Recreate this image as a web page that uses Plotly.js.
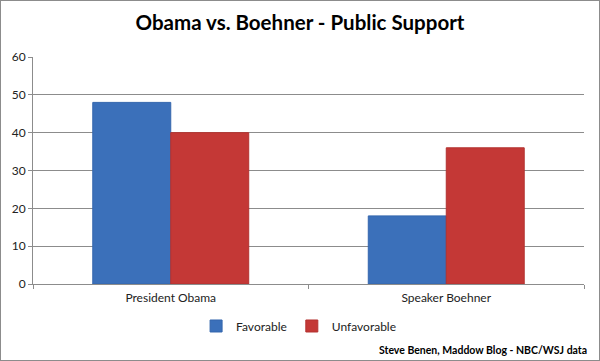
<!DOCTYPE html>
<html><head><meta charset="utf-8">
<script src="https://cdn.plot.ly/plotly-3.0.1.min.js"></script>
<style>html,body{margin:0;padding:0;background:#fff}#c{width:600px;height:361px;box-sizing:border-box;border:1px solid #8c8c8c}</style>
</head><body><div id="c"></div>
<script>
const categories = ["President Obama", "Speaker Boehner"];
const favorable = [48, 18];
const unfavorable = [40, 36];
const seriesNames = ["Favorable", "Unfavorable"];

const data = [
  {type:'bar', x:categories, y:favorable, name:seriesNames[0],
   marker:{color:'#3b70ba', line:{color:'#3466ad', width:1}}},
  {type:'bar', x:categories, y:unfavorable, name:seriesNames[1],
   marker:{color:'#c43836', line:{color:'#b33230', width:1}}}
];
const layout = {
  width:598, height:359,
  margin:{l:32, r:15, t:56, b:76, autoexpand:false},
  paper_bgcolor:'#fff', plot_bgcolor:'#fff',
  barmode:'group', bargap:0.434, bargroupgap:0,
  font:{family:'Lato, "Open Sans", sans-serif', size:12, color:'#222'},
  title:{text:'<b>Obama vs. Boehner - Public Support</b>', x:0.5, xanchor:'center', y:0.94, yanchor:'middle',
    font:{family:'Lato, "Open Sans", sans-serif', size:20.5, color:'#000'}},
  xaxis:{showline:true, linecolor:'#8c8c8c', ticks:'outside', tickson:'boundaries', ticklen:4, tickcolor:'#8c8c8c',
    ticklabelstandoff:3, tickfont:{size:12, color:'#222'}},
  yaxis:{range:[0,60], dtick:10, showline:true, linecolor:'#8c8c8c', gridcolor:'#8c8c8c', gridwidth:1,
    ticks:'outside', ticklen:4, tickcolor:'#8c8c8c', zeroline:false,
    tickfont:{size:12, color:'#222'}},
  showlegend:true,
  legend:{orientation:'h', x:0.482, xanchor:'center', y:-0.185, yanchor:'middle',
    font:{size:12, color:'#222'}, itemwidth:30, tracegroupgap:0},
  annotations:[{text:'<b>Steve Benen, Maddow Blog - NBC/WSJ data</b>', xref:'paper', yref:'paper',
    x:1.009, xanchor:'right', y:-0.29, yanchor:'middle', showarrow:false,
    font:{family:'Lato, sans-serif', size:10.5, color:'#000'}}]
};
Plotly.newPlot('c', data, layout, {displayModeBar:false, staticPlot:true});
</script></body></html>
